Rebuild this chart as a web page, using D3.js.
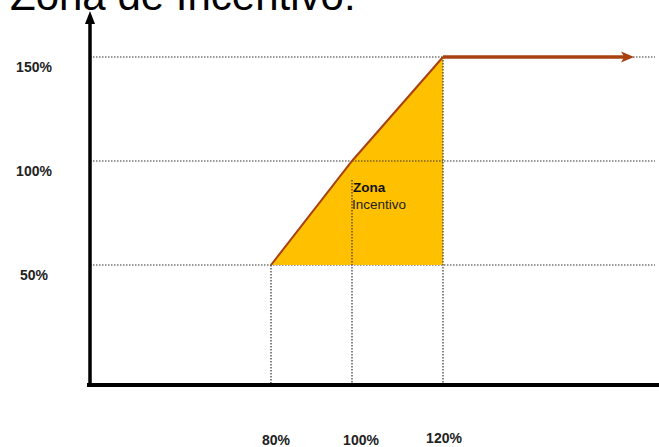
<!DOCTYPE html>
<html>
<head>
<meta charset="utf-8">
<script src="https://cdn.jsdelivr.net/npm/d3@7"></script>
<style>
  html, body { margin: 0; padding: 0; background: #fff; overflow: hidden; }
  svg { display: block; font-family: "Liberation Sans", Arial, sans-serif; }
</style>
</head>
<body>
<svg id="chart" width="659" height="447"></svg>
<script>
// chart values
var title = "Zona de Incentivo:";
var yTicks = [50, 100, 150];          // payout %
var xTicks = [80, 100, 120];          // achievement %
var yLabels = ["50%", "100%", "150%"];
var xLabels = ["80%", "100%", "120%"];
var curveX = [80, 100, 120, 162];     // payout curve, last point = arrow end
var curveY = [50, 100, 150, 150];
var zoneLabel = ["Zona", "Incentivo"];

var svg = d3.select("#chart");

var axisX0 = 90, axisY0 = 385, gridEnd = 655;
var dotted = "#333";

// schematic scales
var x = d3.scaleLinear().domain([80, 100, 120]).range([271, 352, 443]);
var y = d3.scaleLinear().domain([50, 150]).range([265, 57]);

var curve = curveX.map(function(d, i) { return [d, curveY[i]]; });
var line = d3.line().x(function(d) { return x(d[0]); }).y(function(d) { return y(d[1]); });

// title (cut by the top edge like the original)
svg.append("text")
  .attr("x", 10).attr("y", 10)
  .attr("font-size", 42)
  .attr("fill", "#000")
  .text(title);

// horizontal dotted grid
svg.append("g").selectAll("line")
  .data(yTicks).join("line")
  .attr("x1", axisX0).attr("x2", gridEnd)
  .attr("y1", function(d) { return y(d); })
  .attr("y2", function(d) { return y(d); })
  .attr("stroke", dotted).attr("stroke-width", 1.2)
  .attr("stroke-dasharray", "1.5,1.5");

// incentive zone
var zone = curve.slice(0, 3).concat([[120, 50]]);
svg.append("path")
  .attr("d", line(zone) + "Z")
  .attr("fill", "#FFC000");

// horizontal 100% grid visible over the zone
svg.append("line")
  .attr("x1", x(100)).attr("x2", x(120))
  .attr("y1", y(100)).attr("y2", y(100))
  .attr("stroke", dotted).attr("stroke-width", 1.2)
  .attr("stroke-dasharray", "1.5,1.5");

// vertical dotted lines from the curve down to the axis
var vStart = [y(50), y(100) + 19, y(150)];
svg.append("g").selectAll("line")
  .data(xTicks).join("line")
  .attr("x1", function(d) { return x(d); })
  .attr("x2", function(d) { return x(d); })
  .attr("y1", function(d, i) { return vStart[i]; })
  .attr("y2", axisY0)
  .attr("stroke", dotted).attr("stroke-width", 1.2)
  .attr("stroke-dasharray", "1.5,1.5");

// diagonal part of the curve
svg.append("path")
  .attr("d", line(curve.slice(0, 3)))
  .attr("fill", "none")
  .attr("stroke", "#A8400F").attr("stroke-width", 2);

// flat cap with arrow
var cap = curve.slice(2);
var ax = x(cap[1][0]), ay = y(cap[1][1]);
svg.append("line")
  .attr("x1", x(cap[0][0])).attr("x2", ax - 8)
  .attr("y1", y(cap[0][1])).attr("y2", ay)
  .attr("stroke", "#A8400F").attr("stroke-width", 3.5);
svg.append("path")
  .attr("d", "M" + (ax - 13) + "," + (ay - 5.5) + "L" + ax + "," + ay + "L" + (ax - 13) + "," + (ay + 5.5) + "L" + (ax - 10) + "," + ay + "Z")
  .attr("fill", "#A8400F");

// zone label
svg.append("text")
  .attr("x", x(100) + 1).attr("y", y(100) + 31)
  .attr("font-size", 13.5).attr("font-weight", "bold")
  .attr("fill", "#111")
  .text(zoneLabel[0]);
svg.append("text")
  .attr("x", x(100)).attr("y", y(100) + 48)
  .attr("font-size", 13.5)
  .attr("fill", "#222")
  .text(zoneLabel[1]);

// axes
svg.append("line")
  .attr("x1", axisX0).attr("x2", axisX0)
  .attr("y1", axisY0 + 1).attr("y2", 20)
  .attr("stroke", "#000").attr("stroke-width", 3.5);
svg.append("path")
  .attr("d", "M" + (axisX0 - 5) + ",24L" + axisX0 + ",11L" + (axisX0 + 5) + ",24Z")
  .attr("fill", "#000");
svg.append("line")
  .attr("x1", axisX0 - 3).attr("x2", 659)
  .attr("y1", axisY0).attr("y2", axisY0)
  .attr("stroke", "#000").attr("stroke-width", 4);

// y labels
svg.append("g").selectAll("text")
  .data(yTicks).join("text")
  .attr("x", 34)
  .attr("y", function(d) { return y(d) + 15; })
  .attr("text-anchor", "middle")
  .attr("font-size", 14).attr("font-weight", "bold")
  .attr("fill", "#222")
  .text(function(d, i) { return yLabels[i]; });

// x labels
var xShift = [5, 9, 1];
svg.append("g").selectAll("text")
  .data(xTicks).join("text")
  .attr("x", function(d, i) { return x(d) + xShift[i]; })
  .attr("y", function(d, i) { return i === 2 ? 443 : 445; })
  .attr("text-anchor", "middle")
  .attr("font-size", 14).attr("font-weight", "bold")
  .attr("fill", "#222")
  .text(function(d, i) { return xLabels[i]; });
</script>
</body>
</html>
